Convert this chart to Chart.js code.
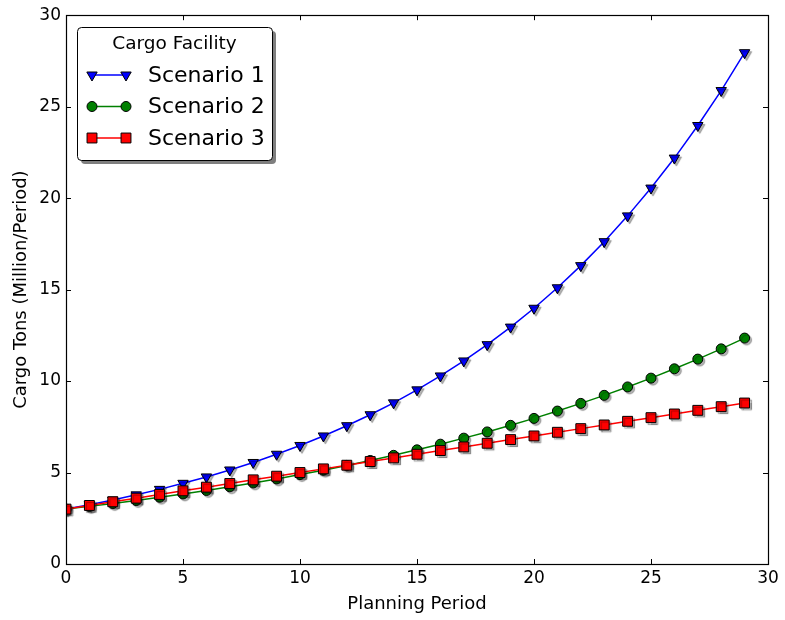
<!DOCTYPE html>
<html>
<head>
<meta charset="utf-8">
<script src="https://cdn.jsdelivr.net/npm/chart.js@4.4.1/dist/chart.umd.min.js"></script>
<style>
  html, body { margin: 0; padding: 0; background: #fff; }
  #wrap { width: 785px; height: 620px; }
</style>
</head>
<body>
<div id="wrap"><canvas id="chart" width="785" height="620"></canvas></div>
<script>
// Data
const periods = [0, 1, 2, 3, 4, 5, 6, 7, 8, 9, 10, 11, 12, 13, 14, 15, 16, 17, 18, 19, 20, 21, 22, 23, 24, 25, 26, 27, 28, 29];
const scenario1 = [3.0, 3.24, 3.5, 3.78, 4.08, 4.41, 4.76, 5.14, 5.55, 6.0, 6.48, 7.0, 7.56, 8.16, 8.81, 9.52, 10.28, 11.1, 11.99, 12.95, 13.98, 15.1, 16.31, 17.62, 19.03, 20.55, 22.19, 23.97, 25.88, 27.95];
const scenario2 = [3.0, 3.15, 3.31, 3.47, 3.65, 3.83, 4.02, 4.22, 4.43, 4.65, 4.89, 5.13, 5.39, 5.66, 5.94, 6.24, 6.55, 6.88, 7.22, 7.58, 7.96, 8.36, 8.78, 9.22, 9.68, 10.16, 10.67, 11.2, 11.76, 12.35];
const scenario3 = [3.0, 3.2, 3.4, 3.6, 3.8, 4.0, 4.2, 4.4, 4.6, 4.8, 5.0, 5.2, 5.4, 5.6, 5.8, 6.0, 6.2, 6.4, 6.6, 6.8, 7.0, 7.2, 7.4, 7.6, 7.8, 8.0, 8.2, 8.4, 8.6, 8.8];
const xTicks = [0, 5, 10, 15, 20, 25, 30];
const yTicks = [0, 5, 10, 15, 20, 25, 30];
const seriesNames = ['Scenario 1', 'Scenario 2', 'Scenario 3'];
const legendTitle = 'Cargo Facility';

const FONT = "'DejaVu Sans', sans-serif";

// small grey drop shadow under the markers, like the reference
const baseDraw = Chart.PointElement.prototype.draw;
Chart.PointElement.prototype.draw = function (ctx, area) {
    ctx.save();
    ctx.shadowColor = 'rgba(0,0,0,0.3)';
    ctx.shadowOffsetX = 2;
    ctx.shadowOffsetY = 2;
    ctx.shadowBlur = 1;
    baseDraw.call(this, ctx, area);
    ctx.restore();
};

function toXY(ys) {
    return periods.map((p, i) => ({ x: p, y: ys[i] }));
}

// frame with inward ticks on all four sides
const framePlugin = {
    id: 'frame',
    afterDatasetsDraw(chart) {
        const { ctx, chartArea: a, scales } = chart;
        ctx.save();
        ctx.strokeStyle = '#000';
        ctx.lineWidth = 1;
        ctx.beginPath();
        xTicks.forEach(v => {
            const px = Math.round(scales.x.getPixelForValue(v)) + 0.5;
            ctx.moveTo(px, a.bottom); ctx.lineTo(px, a.bottom - 5);
            ctx.moveTo(px, a.top); ctx.lineTo(px, a.top + 5);
        });
        yTicks.forEach(v => {
            const py = Math.round(scales.y.getPixelForValue(v)) + 0.5;
            ctx.moveTo(a.left, py); ctx.lineTo(a.left + 5, py);
            ctx.moveTo(a.right, py); ctx.lineTo(a.right - 5, py);
        });
        ctx.stroke();
        ctx.lineWidth = 1.2;
        ctx.strokeRect(Math.round(a.left) + 0.5, Math.round(a.top) + 0.5,
            Math.round(a.right - a.left), Math.round(a.bottom - a.top));
        ctx.restore();
    }
};

// boxed legend in the upper left corner
const legendBox = {
    id: 'legendBox',
    afterDraw(chart) {
        const { ctx } = chart;
        const x0 = 77, y0 = 27, w = 195, h = 133, r = 4;
        ctx.save();
        const rr = (x, y) => {
            ctx.beginPath();
            ctx.roundRect(x, y, w, h, r);
        };
        rr(x0 + 4, y0 + 4);
        ctx.fillStyle = '#7f7f7f';
        ctx.fill();
        rr(x0 + 0.5, y0 + 0.5);
        ctx.fillStyle = '#fff';
        ctx.fill();
        ctx.strokeStyle = '#000';
        ctx.lineWidth = 1;
        ctx.stroke();

        ctx.fillStyle = '#000';
        ctx.textAlign = 'center';
        ctx.textBaseline = 'middle';
        ctx.font = '18.5px ' + FONT;
        ctx.fillText(legendTitle, x0 + w / 2, 44);

        chart.data.datasets.forEach((ds, i) => {
            const y = 75 + i * 31.5;
            ctx.strokeStyle = ds.borderColor;
            ctx.lineWidth = 1.5;
            ctx.beginPath();
            ctx.moveTo(92, y); ctx.lineTo(126, y);
            ctx.stroke();
            [92, 126].forEach(px => {
                ctx.fillStyle = ds.pointBackgroundColor;
                ctx.strokeStyle = '#000';
                ctx.lineWidth = 1;
                Chart.helpers.drawPoint(ctx, {
                    pointStyle: ds.pointStyle,
                    rotation: ds.pointRotation || 0,
                    radius: ds.pointRadius,
                    borderWidth: 1
                }, px, y);
            });
            ctx.fillStyle = '#000';
            ctx.textAlign = 'left';
            ctx.font = '22px ' + FONT;
            ctx.fillText(ds.label, 148, y + 1);
        });
        ctx.restore();
    }
};

const ctx = document.getElementById('chart').getContext('2d');
new Chart(ctx, {
    type: 'line',
    data: {
        datasets: [
            {
                label: seriesNames[0],
                data: toXY(scenario1),
                borderColor: '#0000ff',
                pointBackgroundColor: '#0000ff',
                pointBorderColor: '#000',
                pointStyle: 'triangle',
                pointRotation: 180,
                pointRadius: 6,
                order: 3
            },
            {
                label: seriesNames[1],
                data: toXY(scenario2),
                borderColor: '#008000',
                pointBackgroundColor: '#008000',
                pointBorderColor: '#000',
                pointStyle: 'circle',
                pointRadius: 5,
                order: 2
            },
            {
                label: seriesNames[2],
                data: toXY(scenario3),
                borderColor: '#ff0000',
                pointBackgroundColor: '#ff0000',
                pointBorderColor: '#000',
                pointStyle: 'rect',
                pointRadius: 7,
                order: 1
            }
        ]
    },
    options: {
        responsive: false,
        animation: false,
        devicePixelRatio: 1,
        layout: { padding: { top: 15, right: 17, left: 0, bottom: 0 } },
        datasets: {
            line: {
                borderWidth: 1.5,
                pointBorderWidth: 1,
                tension: 0,
                clip: 0
            }
        },
        plugins: {
            legend: { display: false },
            tooltip: { enabled: false }
        },
        scales: {
            x: {
                type: 'linear',
                min: 0,
                max: 30,
                afterBuildTicks: s => { s.ticks = xTicks.map(v => ({ value: v })); },
                afterFit: s => { s.height = 56; },
                grid: { display: false, drawTicks: false },
                border: { display: false },
                ticks: { color: '#000', padding: 4, font: { family: FONT, size: 17 } },
                title: {
                    display: true,
                    text: 'Planning Period',
                    color: '#000',
                    padding: { top: 0, bottom: 5 },
                    font: { family: FONT, size: 18 }
                }
            },
            y: {
                type: 'linear',
                min: 0,
                max: 30,
                afterBuildTicks: s => { s.ticks = yTicks.map(v => ({ value: v })); },
                afterFit: s => { s.width = 66; },
                grid: { display: false, drawTicks: false },
                border: { display: false },
                ticks: { color: '#000', padding: 5, font: { family: FONT, size: 17 } },
                title: {
                    display: true,
                    text: 'Cargo Tons (Million/Period)',
                    color: '#000',
                    padding: { top: 11, bottom: 0 },
                    font: { family: FONT, size: 18 }
                }
            }
        }
    },
    plugins: [framePlugin, legendBox]
});
</script>
</body>
</html>
